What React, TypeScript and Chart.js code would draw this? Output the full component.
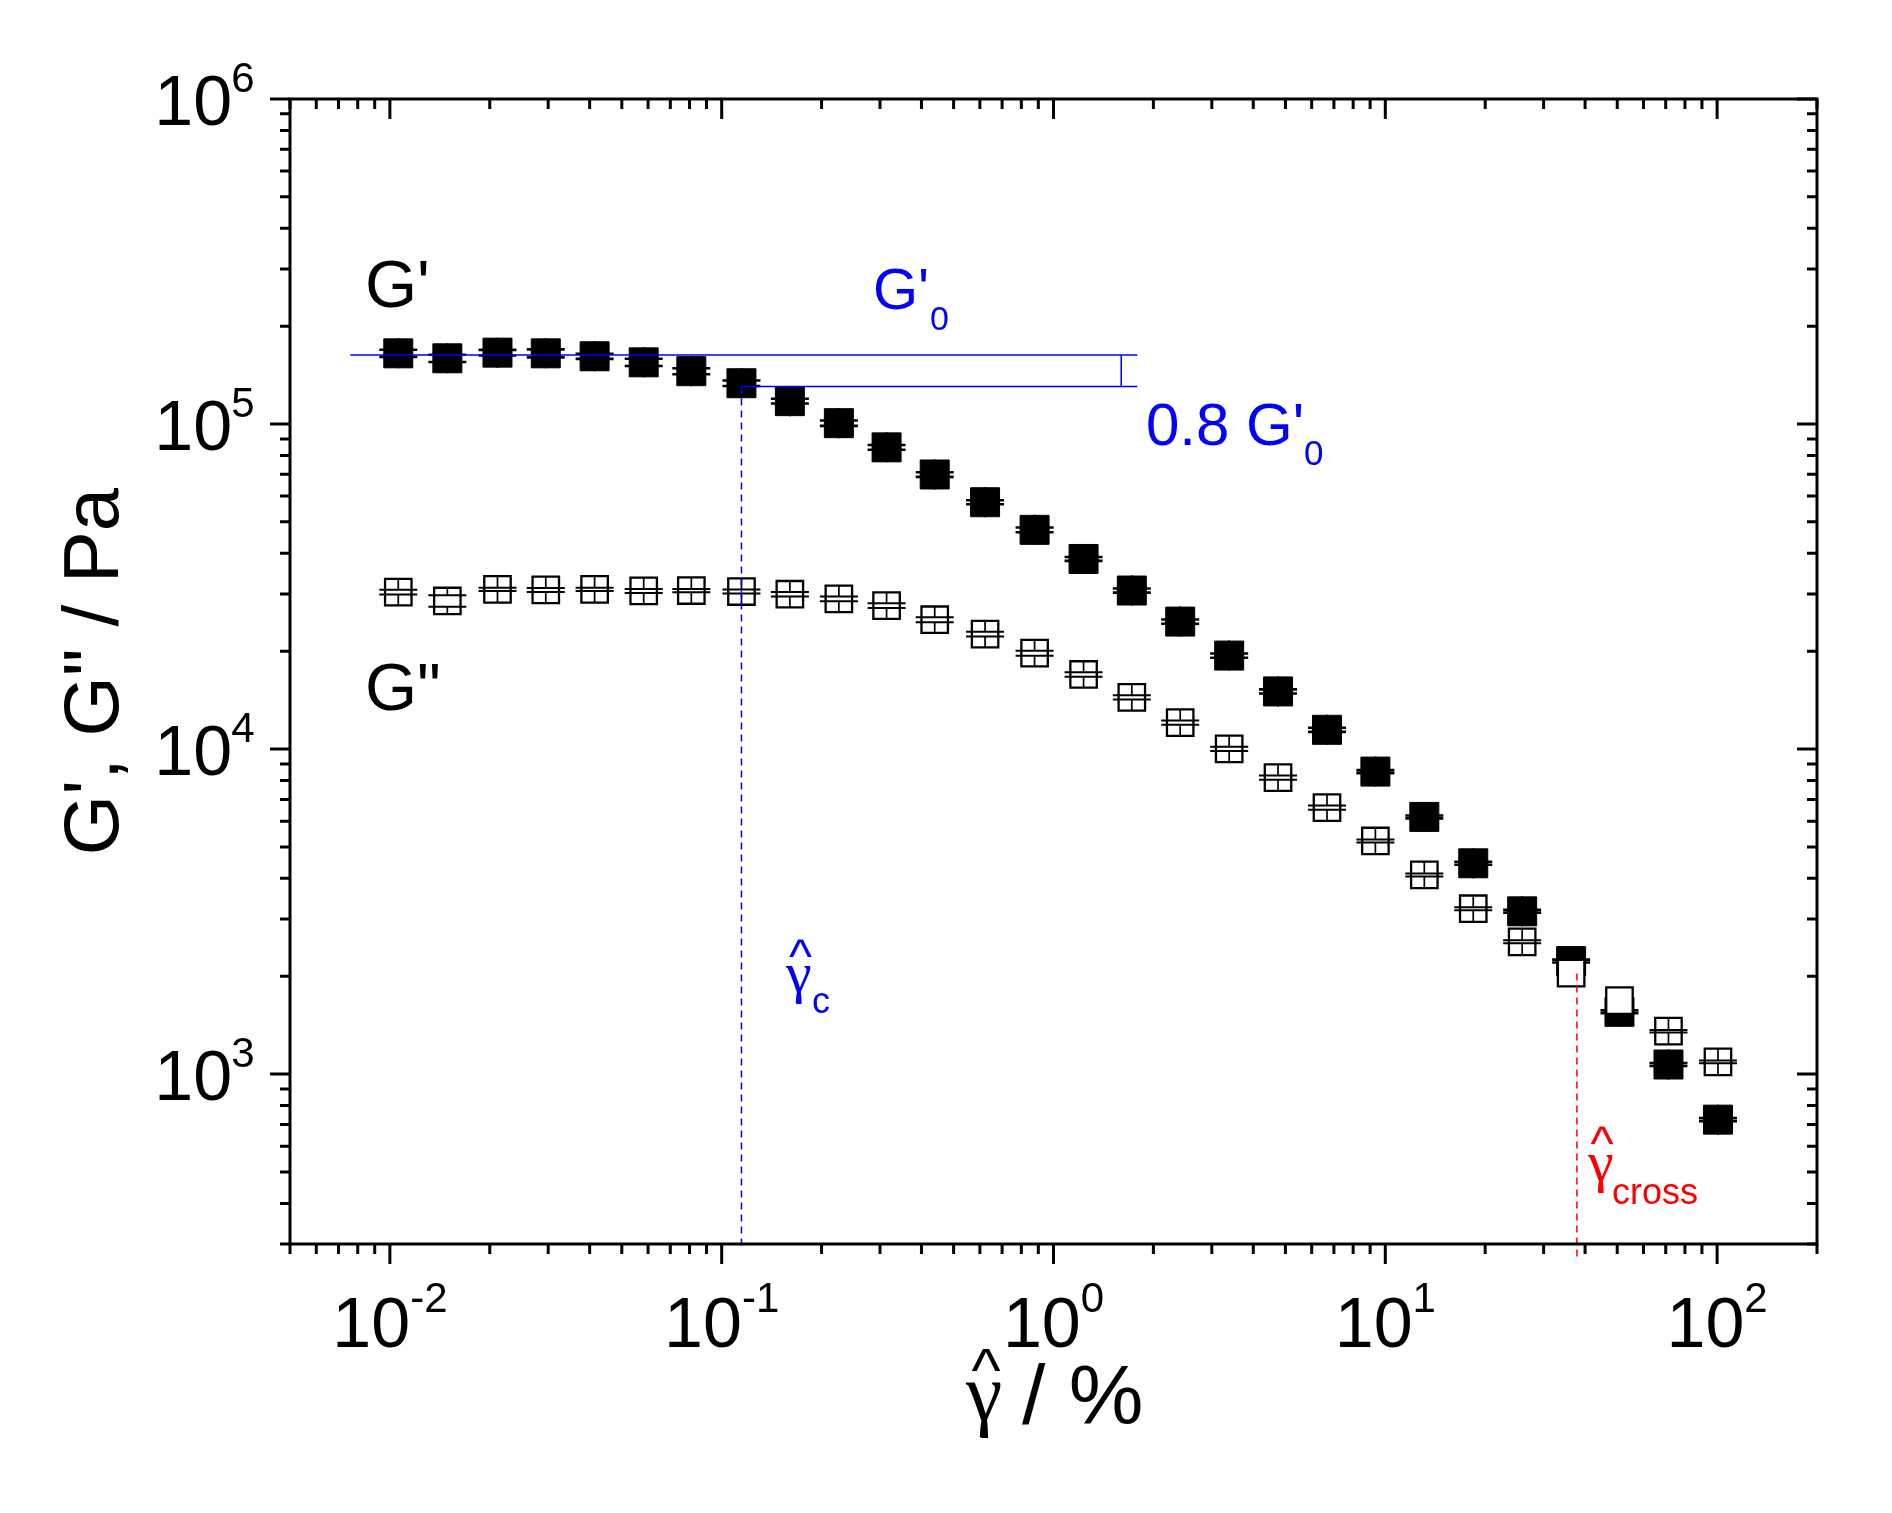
import { useEffect, useRef } from 'react';
import { Chart, registerables } from 'chart.js';

Chart.register(...registerables);

// ---------------- data ----------------
const strain = [
  0.0106, 0.0149, 0.0211, 0.0295, 0.0414, 0.0582, 0.081, 0.1147, 0.1605, 0.2255,
  0.314, 0.4385, 0.622, 0.877, 1.232, 1.722, 2.409, 3.384, 4.75, 6.672,
  9.335, 13.11, 18.41, 25.85, 36.31, 50.78, 71.35, 100.6,
];
const gPrime = [
  165000, 159300, 165800, 165000, 161600, 154800, 145400, 133500, 117600, 100600,
  84760, 69940, 57460, 47250, 38440, 30740, 24670, 19390, 15040, 11460,
  8524, 6182, 4451, 3167, 2226, 1554, 1070, 724,
];
const gPrimeErr = [
  4200, 4100, 3300, 4700, 2900, 4000, 3100, 2650, 2000, 1900,
  1450, 1150, 800, 780, 520, 460, 370, 290, 225, 170,
  90, 65, 47, 33, 23, 16, 11, 8,
];
const gDoublePrime = [
  30390, 28550, 31000, 30870, 31000, 30650, 30740, 30520, 29950, 28980,
  27620, 25000, 22570, 19720, 16960, 14420, 12060, 10010, 8170, 6604,
  5214, 4099, 3226, 2552, 2044, 1682, 1355, 1090,
];
const gDoublePrimeErr: (number | null)[] = [
  500, 1170, 370, 430, 370, 430, 360, 430, 480, 500,
  480, 430, 370, 350, 280, 215, 180, 150, 120, 100,
  57, 45, 35, 28, null, null, 12, 10,
];

const xMajorTicks = [0.01, 0.1, 1, 10, 100];
const xTickExponents = ['-2', '-1', '0', '1', '2'];
const yMajorTicks = [1e3, 1e4, 1e5, 1e6];
const yTickExponents = ['3', '4', '5', '6'];

const X_MIN = 0.005;
const X_MAX = 200;
const Y_MIN = 300;
const Y_MAX = 1e6;

// annotation values
const G0 = 163000;
const G0_FRACTION = 0.8;
const plateauStart = 0.0076;
const plateauEnd = 1.79;
const bracketStrain = 1.6;
const gammaC = 0.1147;
const gammaCross = 37.8;
const crossModulus = 2040;

// ---------------- styling ----------------
const FONT = '"Liberation Sans", Arial, Helvetica, sans-serif';
const SERIF = '"Liberation Serif", "Times New Roman", serif';
const BLUE = '#0000ff';
const RED = '#ff0000';

function logTicks(min: number, max: number) {
  const out: { v: number; major: boolean }[] = [];
  const e0 = Math.floor(Math.log10(min));
  const e1 = Math.ceil(Math.log10(max));
  for (let e = e0; e <= e1; e++) {
    for (let m = 1; m <= 9; m++) {
      const v = m * Math.pow(10, e);
      if (v >= min * 0.9999 && v <= max * 1.0001) out.push({ v, major: m === 1 });
    }
  }
  return out;
}

function txt(
  ctx: CanvasRenderingContext2D,
  s: string,
  x: number,
  y: number,
  size: number,
  color = '#000',
  align: CanvasTextAlign = 'left',
  family = FONT
) {
  ctx.font = `${size}px ${family}`;
  ctx.fillStyle = color;
  ctx.textAlign = align;
  ctx.textBaseline = 'alphabetic';
  ctx.fillText(s, x, y);
}

const errorBarPlugin = {
  id: 'errorBars',
  afterDatasetDraw(chart: any, args: any) {
    const idx = args.index;
    const vals = idx === 0 ? gPrime : gDoublePrime;
    const errs: (number | null)[] = idx === 0 ? gPrimeErr : gDoublePrimeErr;
    const xs = chart.scales.x;
    const ys = chart.scales.y;
    const ctx: CanvasRenderingContext2D = chart.ctx;
    const half = idx === 0 ? 15 : 13.5;
    const capHalf = 19;
    ctx.save();
    ctx.strokeStyle = '#000';
    ctx.lineCap = 'butt';
    strain.forEach((s, i) => {
      const e = errs[i];
      if (e == null) return;
      const px = xs.getPixelForValue(s);
      const py = ys.getPixelForValue(vals[i]);
      const yu = ys.getPixelForValue(vals[i] + e);
      const yl = ys.getPixelForValue(vals[i] - e);
      ctx.lineWidth = idx === 0 ? 2 : 1.7;
      ctx.beginPath();
      ctx.moveTo(px, yu);
      ctx.lineTo(px, py - half);
      ctx.moveTo(px, yl);
      ctx.lineTo(px, py + half);
      ctx.stroke();
      ctx.lineWidth = idx === 0 ? 2.6 : 2;
      ctx.beginPath();
      ctx.moveTo(px - capHalf, yu);
      ctx.lineTo(px + capHalf, yu);
      ctx.moveTo(px - capHalf, yl);
      ctx.lineTo(px + capHalf, yl);
      ctx.stroke();
    });
    ctx.restore();
  },
};

const annotationPlugin = {
  id: 'annotations',
  afterDatasetsDraw(chart: any) {
    const ctx: CanvasRenderingContext2D = chart.ctx;
    const xs = chart.scales.x;
    const ys = chart.scales.y;
    const X = (v: number) => xs.getPixelForValue(v);
    const Y = (v: number) => ys.getPixelForValue(v);
    const area = chart.chartArea;
    const g08 = G0 * G0_FRACTION;

    ctx.save();
    ctx.strokeStyle = BLUE;
    ctx.lineWidth = 1.5;
    ctx.beginPath();
    ctx.moveTo(X(plateauStart), Y(G0));
    ctx.lineTo(X(plateauEnd), Y(G0));
    ctx.moveTo(X(gammaC), Y(g08));
    ctx.lineTo(X(plateauEnd), Y(g08));
    ctx.moveTo(X(bracketStrain), Y(G0));
    ctx.lineTo(X(bracketStrain), Y(g08));
    ctx.stroke();

    ctx.setLineDash([7, 5]);
    ctx.beginPath();
    ctx.moveTo(X(gammaC), Y(g08));
    ctx.lineTo(X(gammaC), area.bottom + 6);
    ctx.stroke();

    ctx.strokeStyle = RED;
    ctx.beginPath();
    ctx.moveTo(X(gammaCross), Y(crossModulus));
    ctx.lineTo(X(gammaCross), area.bottom + 14);
    ctx.stroke();
    ctx.setLineDash([]);

    // labels
    txt(ctx, "G'", 365, 307, 67);
    txt(ctx, 'G"', 365, 710, 67);

    txt(ctx, "G'", 873, 309, 58, BLUE);
    txt(ctx, '0', 930, 330, 34, BLUE);
    txt(ctx, "0.8 G'", 1146, 445, 60, BLUE);
    txt(ctx, '0', 1304, 465, 35, BLUE);

    txt(ctx, '^', 800.5, 972.8, 49, BLUE, 'center');
    txt(ctx, 'γ', 786, 992, 58, BLUE, 'left', SERIF);
    txt(ctx, 'c', 812, 1013, 36, BLUE);

    txt(ctx, '^', 1602, 1160, 49, RED, 'center');
    txt(ctx, 'γ', 1588, 1181, 58, RED, 'left', SERIF);
    txt(ctx, 'cross', 1612, 1204, 36, RED);
    ctx.restore();
  },
  afterDraw(chart: any) {
    const ctx: CanvasRenderingContext2D = chart.ctx;
    const xs = chart.scales.x;
    const ys = chart.scales.y;
    const a = chart.chartArea;
    ctx.save();
    ctx.strokeStyle = '#000';
    ctx.lineWidth = 3;
    ctx.lineCap = 'butt';
    ctx.lineJoin = 'miter';
    ctx.strokeRect(a.left, a.top, a.right - a.left, a.bottom - a.top);

    ctx.beginPath();
    for (const t of logTicks(X_MIN, X_MAX)) {
      const px = xs.getPixelForValue(t.v);
      const len = t.major ? 20 : 10;
      ctx.moveTo(px, a.bottom);
      ctx.lineTo(px, a.bottom + len);
      ctx.moveTo(px, a.top);
      ctx.lineTo(px, a.top + len);
    }
    for (const t of logTicks(Y_MIN, Y_MAX)) {
      const py = ys.getPixelForValue(t.v);
      const len = t.major ? 20 : 10;
      ctx.moveTo(a.left, py);
      ctx.lineTo(a.left - len, py);
      ctx.moveTo(a.right, py);
      ctx.lineTo(a.right - len, py);
    }
    ctx.stroke();

    // x tick labels
    xMajorTicks.forEach((v, i) => {
      const px = xs.getPixelForValue(v);
      ctx.font = `70px ${FONT}`;
      const bw = ctx.measureText('10').width;
      ctx.font = `42px ${FONT}`;
      const ew = ctx.measureText(xTickExponents[i]).width;
      const start = px - (bw + ew) / 2;
      txt(ctx, '10', start, a.bottom + 103, 70);
      txt(ctx, xTickExponents[i], start + bw, a.bottom + 68, 42);
    });
    // y tick labels
    yMajorTicks.forEach((v, i) => {
      const py = ys.getPixelForValue(v);
      const right = a.left - 35.5;
      ctx.font = `42px ${FONT}`;
      const ew = ctx.measureText(yTickExponents[i]).width;
      txt(ctx, yTickExponents[i], right, py - 7, 42, '#000', 'right');
      txt(ctx, '10', right - ew + 1, py + 26, 70, '#000', 'right');
    });

    // axis titles
    txt(ctx, '^', 986, 1391, 62, '#000', 'center');
    txt(ctx, 'γ', 966, 1420, 82, '#000', 'left', SERIF);
    txt(ctx, '/ %', 1022, 1424, 84);

    ctx.translate(117.5, 671.7);
    ctx.rotate(-Math.PI / 2);
    txt(ctx, 'G\', G" / Pa', 0, 0, 78, '#000', 'center');
    ctx.restore();
  },
};

export default function App() {
  const ref = useRef<HTMLCanvasElement>(null);
  useEffect(() => {
    document.body.style.margin = '0';
    document.body.style.background = '#fff';
    const canvas = ref.current;
    if (!canvas) return;
    const chart = new Chart(canvas, {
      type: 'scatter',
      data: {
        datasets: [
          {
            label: "G'",
            data: strain.map((x, i) => ({ x, y: gPrime[i] })),
            pointStyle: 'rect',
            pointRadius: 20.5,
            pointHoverRadius: 20.5,
            backgroundColor: '#000',
            borderColor: '#000',
            borderWidth: 1,
            showLine: false,
            order: 2,
          },
          {
            label: 'G"',
            data: strain.map((x, i) => ({ x, y: gDoublePrime[i] })),
            pointStyle: 'rect',
            pointRadius: 18.7,
            pointHoverRadius: 18.7,
            backgroundColor: '#fff',
            borderColor: '#000',
            borderWidth: 2.3,
            showLine: false,
            order: 1,
          },
        ],
      },
      options: {
        responsive: false,
        animation: false,
        events: [],
        layout: { padding: { left: 290, top: 99, right: 75, bottom: 269 } },
        scales: {
          x: { type: 'logarithmic', min: X_MIN, max: X_MAX, display: false },
          y: { type: 'logarithmic', min: Y_MIN, max: Y_MAX, display: false },
        },
        plugins: {
          legend: { display: false },
          tooltip: { enabled: false },
        },
      },
      plugins: [errorBarPlugin, annotationPlugin],
    });
    return () => chart.destroy();
  }, []);
  return (
    <div style={{ width: 1892, height: 1513, background: '#fff' }}>
      <canvas ref={ref} width={1892} height={1513} style={{ display: 'block' }} />
    </div>
  );
}
